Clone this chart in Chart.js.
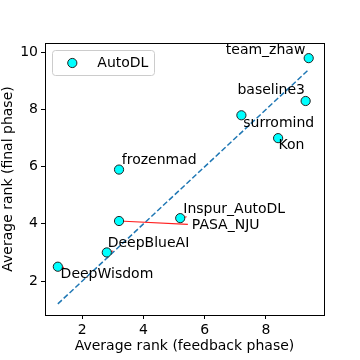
<!DOCTYPE html>
<html><head><meta charset="utf-8">
<script src="https://cdn.jsdelivr.net/npm/chart.js@4/dist/chart.umd.min.js"></script>
<style>html,body{margin:0;padding:0;background:#fff}</style>
</head><body>
<canvas id="c" width="360" height="360"></canvas>
<script>
const seriesName = 'AutoDL';
const teams = ['team_zhaw','baseline3','surromind','Kon','frozenmad','Inspur_AutoDL','PASA_NJU','DeepBlueAI','DeepWisdom'];
const feedbackRank = [9.4, 9.3, 7.2, 8.4, 3.2, 5.2, 3.2, 2.8, 1.2];
const finalRank    = [9.8, 8.3, 7.8, 7.0, 5.9, 4.2, 4.1, 3.0, 2.5];
// label anchor positions (data units)
const labelX = [6.69, 7.07, 7.26, 8.41, 3.29, 5.30, 5.58, 2.83, 1.29];
const labelY = [10.08, 8.66, 7.52, 6.73, 6.23, 4.52, 3.93, 3.32, 2.24];
// arrow end points (data units), null = no arrow
const arrowX = [null, null, null, null, null, 5.41, 5.45, 3.0, 1.4];
const arrowY = [null, null, null, null, null, 4.25, 3.98, 3.05, 2.48];
const xTicks = [2, 4, 6, 8];
const yTicks = [2, 4, 6, 8, 10];
const xTitle = 'Average rank (feedback phase)';
const yTitle = 'Average rank (final phase)';

const FONT = 'DejaVu Sans';
const lo = Math.min(...feedbackRank), hi = Math.max(...feedbackRank);

const datasets = [];
datasets.push({
  label: seriesName,
  type: 'scatter',
  data: teams.map((t,i)=>({x: feedbackRank[i], y: finalRank[i]})),
  backgroundColor: '#00ffff',
  borderColor: '#222',
  borderWidth: 1,
  pointRadius: 4.6,
  pointHoverRadius: 4.6,
  order: 0
});
datasets.push({
  label: 'diag',
  type: 'line',
  data: [{x: lo, y: lo}, {x: hi, y: hi}],
  borderColor: '#1f77b4',
  borderWidth: 1.5,
  borderDash: [5.5, 2.5],
  pointRadius: 0,
  fill: false,
  order: 2
});
teams.forEach((t,i)=>{
  if (arrowX[i] === null) return;
  datasets.push({
    label: 'arrow_' + t,
    type: 'line',
    data: [{x: feedbackRank[i], y: finalRank[i]}, {x: arrowX[i], y: arrowY[i]}],
    borderColor: '#ff2020',
    borderWidth: 1.2,
    pointRadius: 0,
    fill: false,
    order: 1
  });
});

const decor = {
  id: 'decor',
  afterDatasetsDraw(chart) {
    const {ctx, chartArea: a, scales: {x, y}} = chart;
    ctx.save();
    // labels
    ctx.font = '14px "' + FONT + '"';
    ctx.fillStyle = '#000';
    ctx.textAlign = 'left';
    ctx.textBaseline = 'middle';
    teams.forEach((t,i)=>{
      ctx.fillText(t, x.getPixelForValue(labelX[i]), y.getPixelForValue(labelY[i]));
    });
    // frame
    ctx.strokeStyle = '#000';
    ctx.lineWidth = 1;
    ctx.strokeRect(Math.round(a.left)+0.5, Math.round(a.top)+0.5, Math.round(a.right-a.left), Math.round(a.bottom-a.top));
    // legend
    const lx = 52.5, ly = 50.5, lw = 102, lh = 25, r = 3;
    ctx.beginPath();
    ctx.moveTo(lx+r, ly);
    ctx.arcTo(lx+lw, ly, lx+lw, ly+lh, r);
    ctx.arcTo(lx+lw, ly+lh, lx, ly+lh, r);
    ctx.arcTo(lx, ly+lh, lx, ly, r);
    ctx.arcTo(lx, ly, lx+lw, ly, r);
    ctx.closePath();
    ctx.fillStyle = 'rgba(255,255,255,0.8)';
    ctx.fill();
    ctx.strokeStyle = '#cccccc';
    ctx.stroke();
    ctx.beginPath();
    ctx.arc(72.3, 63, 4.6, 0, Math.PI*2);
    ctx.fillStyle = '#00ffff';
    ctx.fill();
    ctx.strokeStyle = '#222';
    ctx.lineWidth = 1;
    ctx.stroke();
    ctx.fillStyle = '#000';
    ctx.textBaseline = 'middle';
    ctx.fillText(seriesName, 97.3, 63);
    ctx.restore();
  }
};

new Chart(document.getElementById('c'), {
  type: 'scatter',
  data: { datasets },
  options: {
    responsive: false,
    devicePixelRatio: 1,
    animation: false,
    events: [],
    layout: { padding: { top: 43, right: 36, left: 0, bottom: 0 } },
    plugins: { legend: { display: false }, tooltip: { enabled: false } },
    scales: {
      x: {
        type: 'linear', min: 0.78, max: 9.9,
        afterBuildTicks: s => { s.ticks = xTicks.map(v=>({value: v})); },
        afterFit: s => { s.height = 45; },
        grid: { drawOnChartArea: false, drawTicks: true, tickLength: 4, color: '#000', lineWidth: 1 },
        border: { display: false },
        ticks: { color: '#000', padding: 3, font: { family: FONT, size: 14 }, maxRotation: 0 },
        title: { display: true, text: xTitle, color: '#000', font: { family: FONT, size: 14 }, padding: { top: 0, bottom: 5 } }
      },
      y: {
        type: 'linear', min: 0.81, max: 10.33,
        afterBuildTicks: s => { s.ticks = yTicks.map(v=>({value: v})); },
        afterFit: s => { s.width = 45; },
        grid: { drawOnChartArea: false, drawTicks: true, tickLength: 4, color: '#000', lineWidth: 1 },
        border: { display: false },
        ticks: { color: '#000', padding: 3, font: { family: FONT, size: 14 } },
        title: { display: true, text: yTitle, color: '#000', font: { family: FONT, size: 14 }, padding: { top: 0, bottom: 0 } }
      }
    }
  },
  plugins: [decor]
});
</script>
</body></html>
